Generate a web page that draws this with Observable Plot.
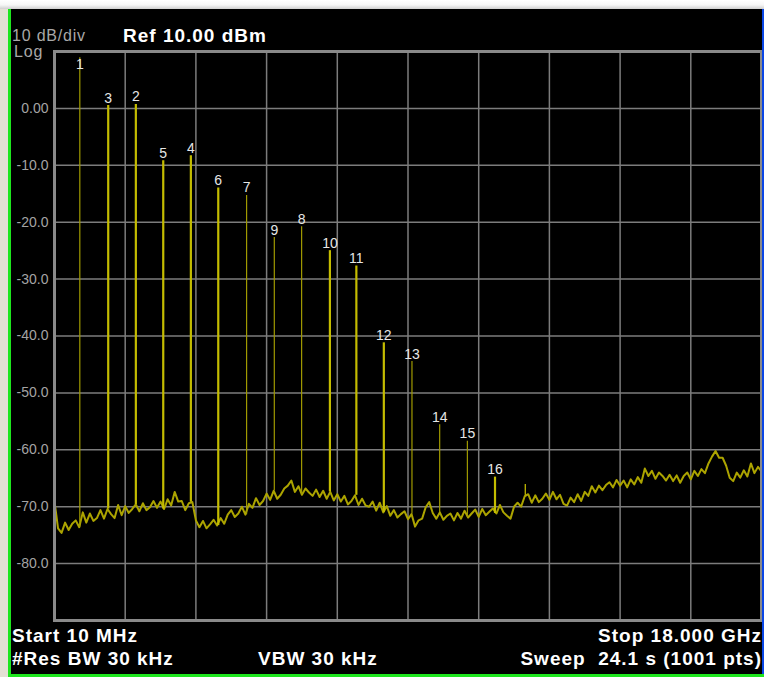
<!DOCTYPE html>
<html>
<head>
<meta charset="utf-8">
<script src="https://cdn.jsdelivr.net/npm/d3@7"></script>
<script src="https://cdn.jsdelivr.net/npm/@observablehq/plot@0.6"></script>
<style>
html,body{margin:0;padding:0;background:#fff;}
#screen{position:relative;width:764px;height:677px;overflow:hidden;background:#000;font-family:"Liberation Sans",Arial,sans-serif;}
#screen svg{position:absolute;left:0;top:0;}
.t{position:absolute;white-space:pre;color:#fff;font-weight:bold;font-size:19px;letter-spacing:1px;line-height:19px;z-index:3;}
.g{position:absolute;white-space:pre;color:#a8a8a8;font-size:16px;letter-spacing:0.8px;line-height:16px;z-index:3;}
.deco{position:absolute;z-index:4;}
</style>
</head>
<body>
<div id="screen">
  <div class="deco" style="left:0;top:0;width:764px;height:9px;background:linear-gradient(to bottom,#ffffff 0%,#f6f6f6 55%,#cfcfcf 100%);"></div>
  <div class="deco" style="left:0;top:9px;width:8px;height:668px;background:#e4e0d4;"></div>
  <div class="deco" style="left:8px;top:9px;width:3px;height:668px;background:#1ee61e;"></div>
  <div class="deco" style="left:762px;top:9px;width:2px;height:665px;background:#0a46e6;"></div>
  <div class="deco" style="left:8px;top:674px;width:756px;height:3px;background:#1ee61e;"></div>

  <div class="g" style="left:12px;top:28px;">10 dB/div</div>
  <div class="g" style="left:14px;top:44px;">Log</div>
  <div class="t" style="left:123px;top:26px;">Ref 10.00 dBm</div>
  <div class="t" style="left:12px;top:626px;">Start 10 MHz</div>
  <div class="t" style="left:12px;top:649px;">#Res BW 30 kHz</div>
  <div class="t" style="left:258px;top:649px;">VBW 30 kHz</div>
  <div class="t" style="right:2px;top:626px;">Stop 18.000 GHz</div>
  <div class="t" style="right:2px;top:649px;">Sweep  24.1 s (1001 pts)</div>
</div>
<script>
// ---- data ----
const startGHz = 0.01;
const stopGHz = 18.0;
const refLevel = 10;
const bottomLevel = -90;

const yTicks = [0, -10, -20, -30, -40, -50, -60, -70, -80];
const yTickLabels = ["0.00", "-10.0", "-20.0", "-30.0", "-40.0", "-50.0", "-60.0", "-70.0", "-80.0"];

// noise-floor trace (dBm), evenly spaced across the sweep
const floorLevels = [
  -69.0,-73.8,-74.6,-72.8,-74.1,-73.0,-72.4,-73.6,-71.0,-72.8,
  -71.2,-72.5,-72.0,-70.6,-72.1,-70.4,-71.3,-72.0,-69.7,-71.5,
  -69.9,-71.1,-70.4,-69.6,-70.8,-69.4,-70.6,-70.1,-69.0,-70.2,
  -69.1,-70.4,-68.7,-69.8,-67.4,-69.1,-69.0,-70.6,-69.4,-69.2,
  -72.4,-73.6,-72.5,-73.8,-73.1,-72.3,-73.3,-72.0,-73.0,-71.4,
  -70.6,-71.8,-71.2,-70.0,-71.4,-69.5,-70.2,-68.5,-69.7,-69.0,
  -67.7,-68.8,-67.2,-68.6,-67.9,-66.8,-66.3,-65.4,-67.4,-66.4,
  -67.9,-66.8,-67.5,-68.1,-67.0,-68.3,-67.2,-68.6,-67.4,-68.9,
  -67.8,-69.1,-68.1,-69.6,-69.0,-68.0,-69.7,-68.6,-69.8,-70.0,
  -69.1,-70.7,-69.3,-71.0,-69.9,-71.6,-70.6,-71.9,-71.3,-70.8,
  -72.2,-71.3,-73.5,-72.4,-72.1,-70.1,-69.2,-71.1,-72.1,-71.0,
  -72.3,-71.6,-71.2,-72.4,-71.1,-72.1,-70.7,-71.9,-71.2,-70.5,
  -71.8,-70.4,-71.5,-70.9,-70.3,-71.2,-69.7,-71.0,-71.6,-72.1,
  -70.0,-69.3,-70.0,-68.2,-67.8,-69.3,-68.0,-69.2,-68.6,-67.7,
  -68.8,-67.4,-68.7,-67.9,-69.5,-69.8,-68.4,-69.2,-67.8,-69.0,
  -67.4,-68.1,-66.4,-67.5,-66.3,-67.1,-66.2,-65.7,-66.6,-65.3,
  -66.3,-65.4,-66.6,-65.2,-66.1,-64.8,-65.8,-63.3,-64.6,-63.7,
  -65.1,-64.0,-64.6,-65.4,-64.4,-65.5,-64.5,-65.8,-64.6,-64.0,
  -65.2,-63.7,-64.6,-63.4,-64.1,-62.4,-61.2,-60.2,-61.4,-61.4,
  -62.8,-64.9,-65.5,-64.0,-64.9,-63.6,-64.7,-62.4,-64.1,-63.0,
  -63.8
];

// markers
const peakLabels = ["1","3","2","5","4","6","7","9","8","10","11","12","13","14","15","16"];
const peakFreqs  = [0.654,1.377,2.080,2.777,3.480,4.177,4.898,5.603,6.298,7.018,7.691,8.390,9.106,9.811,10.516,11.219];
const peakLevels = [8.9,0.5,0.7,-9.2,-8.3,-14.0,-15.3,-22.7,-20.8,-25.0,-27.7,-41.2,-44.5,-55.6,-58.5,-64.8];

// unlabeled spur
const spurFreqs = [11.99];
const spurLevels = [-66.1];

// ---- build ----
const step = (stopGHz - startGHz) / (floorLevels.length - 1);
const trace = floorLevels.map((v, i) => ({f: startGHz + i * step, v}));
const floorAt = f => floorLevels[Math.max(0, Math.min(floorLevels.length - 1, Math.round((f - startGHz) / step)))];
const peaks = peakLabels.map((l, i) => ({label: l, f: peakFreqs[i], level: peakLevels[i], base: floorAt(peakFreqs[i])}));
const spurs = spurFreqs.map((f, i) => ({f, level: spurLevels[i], base: floorAt(f)}));
const xDivs = d3.range(1, 10).map(k => startGHz + k * (stopGHz - startGHz) / 10);

const thinMarkers = new Set(["1","7","9","8","13","14","15"]);

const chart = Plot.plot({
  width: 764,
  height: 677,
  marginLeft: 54,
  marginRight: 3,
  marginTop: 51,
  marginBottom: 57,
  style: {background: "transparent", fontFamily: "'Liberation Sans', Arial, sans-serif"},
  x: {domain: [startGHz, stopGHz], axis: null},
  y: {domain: [bottomLevel, refLevel], axis: null},
  marks: [
    Plot.ruleY(yTicks, {stroke: "#7c7c7c", strokeWidth: 1.5}),
    Plot.ruleX(xDivs, {stroke: "#7c7c7c", strokeWidth: 1.5}),
    Plot.axisY(yTicks, {tickSize: 0, tickPadding: 6, fontSize: 14, fill: "#a4a4a4",
      tickFormat: (d) => yTickLabels[yTicks.indexOf(d)]}),
    Plot.line(trace, {x: "f", y: "v", stroke: "#aca400", strokeWidth: 2, clip: true}),
    Plot.ruleX(peaks.filter(d => !thinMarkers.has(d.label)), {x: "f", y1: "base", y2: "level", stroke: "#c4bc00", strokeWidth: 2.2, clip: true}),
    Plot.ruleX(peaks.filter(d => thinMarkers.has(d.label)), {x: "f", y1: "base", y2: "level", stroke: "#a09a00", strokeWidth: 1.2, clip: true}),
    Plot.ruleX(spurs, {x: "f", y1: "base", y2: "level", stroke: "#b2aa00", strokeWidth: 1.4, clip: true}),
    Plot.text(peaks, {x: "f", y: d => Math.min(d.level, 6.4), text: "label", lineAnchor: "bottom", dy: -3, fill: "#e6e6e6", fontSize: 14}),
    Plot.frame({stroke: "#8a8a8a", strokeWidth: 3})
  ]
});
document.getElementById("screen").appendChild(chart);
</script>
</body>
</html>
